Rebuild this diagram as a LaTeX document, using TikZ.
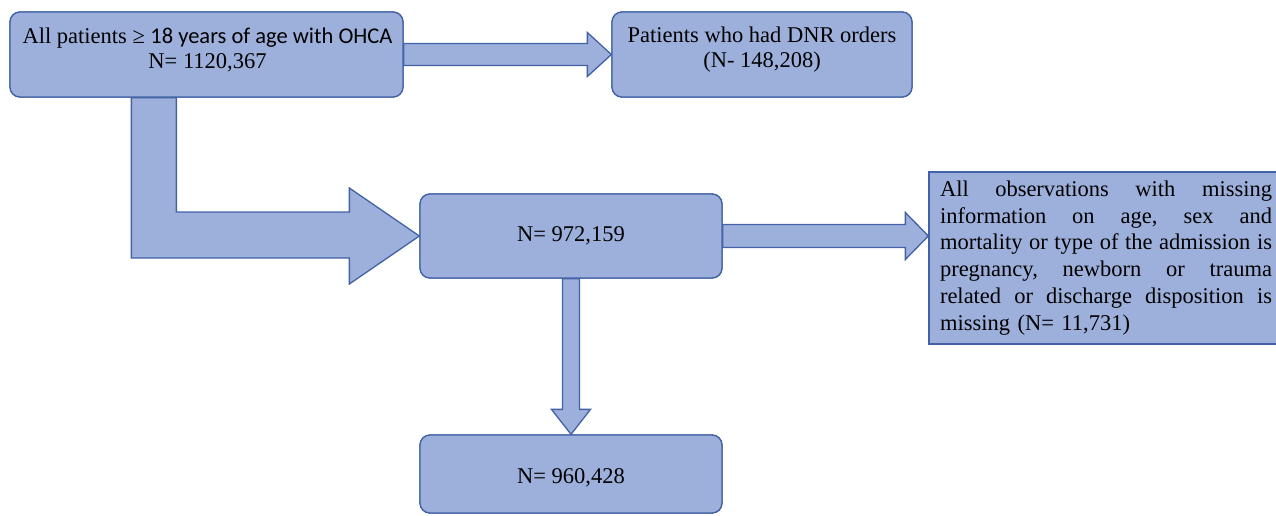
\documentclass[tikz,border=0pt]{standalone}
\usepackage{fontspec}
\setmainfont{Liberation Serif}
\newfontfamily\calib{Carlito}
\usetikzlibrary{calc}
\definecolor{boxfill}{RGB}{157,176,219}
\definecolor{boxline}{RGB}{66,98,165}
\newcommand{\jline}[1]{\leavevmode\hbox to 332pt{#1}}
\begin{document}
\begin{tikzpicture}[x=1pt,y=-1pt,
  rbox/.style={draw=boxline, fill=boxfill, line width=1.3pt, rounded corners=10pt, inner sep=0pt},
  sbox/.style={draw=boxline, fill=boxfill, line width=1.3pt, inner sep=0pt},
  txt/.style={inner sep=0pt, align=center, font=\fontsize{22.5}{25}\selectfont},
  blockarrow/.style={draw=boxline, fill=boxfill, line width=1.3pt, line join=miter}]
\clip (0,0) rectangle (1276,515);
% box positions
\path (206.5,54.5) coordinate (c1);
\path (762,54.5) coordinate (c2);
\path (571,236) coordinate (c3);
\path (1106,258) coordinate (c4);
\path (571,474) coordinate (c5);
\node[rbox, minimum width=393, minimum height=85] (b1) at (c1) {};
\node[rbox, minimum width=300, minimum height=85] (b2) at (c2) {};
\node[rbox, minimum width=302, minimum height=84] (b3) at (c3) {};
\node[sbox, minimum width=354, minimum height=172] (b4) at (c4) {};
\node[rbox, minimum width=302, minimum height=78] (b5) at (c5) {};
% arrows
\draw[blockarrow] ($(b1.east)+(0,-11)$) -- ($(b2.west)+(-24,-11)$) -- ($(b2.west)+(-24,-22)$) -- (b2.west)
  -- ($(b2.west)+(-24,22)$) -- ($(b2.west)+(-24,11)$) -- ($(b1.east)+(0,11)$) -- cycle;
\coordinate (sL) at ($(b1.south west)+(122,0)$);
\coordinate (sR) at ($(b1.south west)+(167,0)$);
\coordinate (hT) at ($(b3.west)+(-70,-24)$);
\coordinate (hB) at ($(b3.west)+(-70,22)$);
\draw[blockarrow] (sL) -- (sR) -- (sR |- hT) -- (hT) -- ($(b3.west)+(-70,-48)$) -- (b3.west)
  -- ($(b3.west)+(-70,48)$) -- (hB) -- (sL |- hB) -- cycle;
\coordinate (t4) at (b4.west |- b3.east);
\draw[blockarrow] ($(b3.east)+(0,-11.5)$) -- ($(t4)+(-23,-11.5)$) -- ($(t4)+(-23,-23.5)$) -- (t4)
  -- ($(t4)+(-23,23.5)$) -- ($(t4)+(-23,11.5)$) -- ($(b3.east)+(0,11.5)$) -- cycle;
\draw[blockarrow] ($(b3.south)+(-8.5,0)$) -- ($(b5.north)+(-8.5,-25)$) -- ($(b5.north)+(-19.5,-25)$) -- (b5.north)
  -- ($(b5.north)+(19.5,-25)$) -- ($(b5.north)+(8.5,-25)$) -- ($(b3.south)+(8.5,0)$) -- cycle;
% redraw boxes on top of arrow ends
\node[rbox, minimum width=393, minimum height=85] at (c1) {};
\node[rbox, minimum width=300, minimum height=85] at (c2) {};
\node[rbox, minimum width=302, minimum height=84] at (c3) {};
\node[sbox, minimum width=354, minimum height=172] at (c4) {};
\node[rbox, minimum width=302, minimum height=78] at (c5) {};
% texts
\node[txt] (t1) at ($(b1.center)+(1,-5)$) {All patients ≥ {\calib 18 years of age with OHCA}\\N= 1120,367};
\node[txt] (t2) at ($(b2.center)+(0,-5)$) {Patients who had DNR orders\\(N- 148,208)};
\node[txt] (t3) at (b3.center) {N= 972,159};
\node[txt] (t5) at ($(b5.center)+(0,4)$) {N= 960,428};
\node[inner sep=0pt, text width=332pt, align=left, font=\fontsize{22.5}{26.8}\selectfont] (t4txt) at (b4.center)
 {\jline{All\hfill observations\hfill with\hfill missing}\\
  \jline{information\hfill on\hfill age,\hfill sex\hfill and}\\
  \jline{mortality\hfill or\hfill type\hfill of\hfill the\hfill admission\hfill is}\\
  \jline{pregnancy,\hfill newborn\hfill or\hfill trauma}\\
  \jline{related\hfill or\hfill discharge\hfill disposition\hfill is}\\
  missing (N= 11,731)};
\end{tikzpicture}
\end{document}
